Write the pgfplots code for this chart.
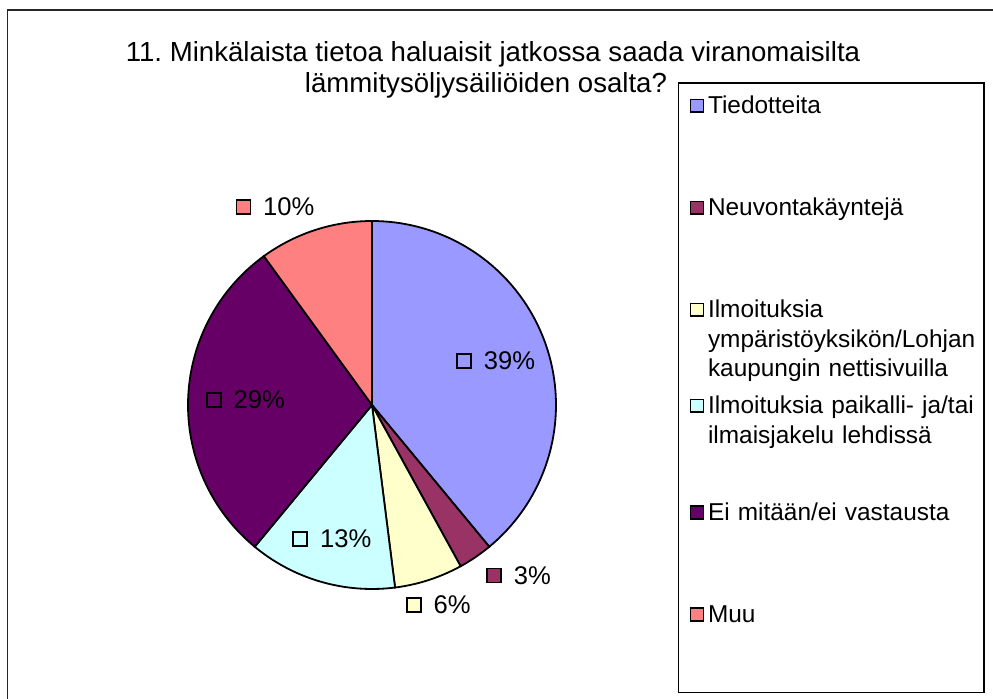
\documentclass[border=0pt]{standalone}
\usepackage{pgfplots}
\pgfplotsset{compat=1.18}
\usepackage{fontspec}
\setmainfont{Liberation Sans}
\frenchspacing
\definecolor{cA}{HTML}{9999FF}
\definecolor{cB}{HTML}{993366}
\definecolor{cC}{HTML}{FFFFCC}
\definecolor{cD}{HTML}{CCFFFF}
\definecolor{cE}{HTML}{660066}
\definecolor{cF}{HTML}{FF8080}
% shares (percent)
\def\vA{39}\def\vB{3}\def\vC{6}\def\vD{13}\def\vE{29}\def\vF{10}
\pgfmathsetmacro\aZ{90}
\pgfmathsetmacro\aA{\aZ-3.6*\vA}
\pgfmathsetmacro\aB{\aA-3.6*\vB}
\pgfmathsetmacro\aC{\aB-3.6*\vC}
\pgfmathsetmacro\aD{\aC-3.6*\vD}
\pgfmathsetmacro\aE{\aD-3.6*\vE}
\pgfmathsetmacro\aF{\aE-3.6*\vF}
\newcommand\lfont{\fontsize{12.2bp}{14.8bp}\selectfont}
\newcommand\pfont{\fontsize{12.8bp}{15bp}\selectfont}
\begin{document}
\lfont
\begin{tikzpicture}
\useasboundingbox (0,0) rectangle (496.5bp,349.5bp);
\draw[line width=0.8bp, black!85] (3.75bp,-2bp) -- (3.75bp,344.5bp) -- (498bp,344.5bp);
\node[anchor=base, inner sep=0pt, font=\fontsize{13.8bp}{15bp}\selectfont] at (246.5bp,318.6bp) {11.\ Minkälaista tietoa haluaisit jatkossa saada viranomaisilta};
\node[anchor=base, inner sep=0pt, font=\fontsize{13.8bp}{15bp}\selectfont] at (243bp,303bp) {lämmitysöljysäiliöiden osalta?};
\begin{axis}[at={(186bp,147bp)}, anchor=center, scale only axis,
  width=184bp, height=184bp, xmin=-1, xmax=1, ymin=-1, ymax=1,
  hide axis, clip=false,
  legend image code/.code={\draw[#1, line width=0.75bp] (-0.2bp,0.8bp) rectangle (6.2bp,7.2bp);},
  legend cell align=left,
  legend style={at={(1.3315,1.3777)}, anchor=north west, draw=black, line width=0.75bp,
    fill=white, inner xsep=5.5bp, inner ysep=3.1bp, row sep=0pt, font=\lfont,
    cells={anchor=base west, inner sep=0pt},
    /tikz/every even column/.append style={column sep=3.5bp}},
  nodes near coords style={anchor=west, xshift=9.5bp, inner sep=0pt, font=\pfont, text=black},
]
\addplot[fill=cA, draw=black, line width=0.9bp, domain=\aA:\aZ, samples=80, variable=\t] ({cos(\t)},{sin(\t)}) -- (axis cs:0,0) -- cycle;
\addlegendentry[text width=130.5bp, align=left, text height=10.4bp, text depth=36.6bp]{Tiedotteita}
\addplot[fill=cB, draw=black, line width=0.9bp, domain=\aB:\aA, samples=10, variable=\t] ({cos(\t)},{sin(\t)}) -- (axis cs:0,0) -- cycle;
\addlegendentry[text width=130.5bp, align=left, text height=10.4bp, text depth=36.6bp]{Neuvontakäyntejä}
\addplot[fill=cC, draw=black, line width=0.9bp, domain=\aC:\aB, samples=15, variable=\t] ({cos(\t)},{sin(\t)}) -- (axis cs:0,0) -- cycle;
\addlegendentry[text width=130.5bp, align=left, text height=10.4bp, text depth=33.6bp]{Ilmoituksia\\\mbox{ympäristöyksikön/Lohjan}\\kaupungin nettisivuilla}
\addplot[fill=cD, draw=black, line width=0.9bp, domain=\aD:\aC, samples=30, variable=\t] ({cos(\t)},{sin(\t)}) -- (axis cs:0,0) -- cycle;
\addlegendentry[text width=130.5bp, align=left, text height=10.4bp, text depth=39.1bp]{\mbox{Ilmoituksia paikalli- ja/tai}\\ilmaisjakelu lehdissä}
\addplot[fill=cE, draw=black, line width=0.9bp, domain=\aE:\aD, samples=60, variable=\t] ({cos(\t)},{sin(\t)}) -- (axis cs:0,0) -- cycle;
\addlegendentry[text width=130.5bp, align=left, text height=10.4bp, text depth=36.6bp]{Ei mitään/ei vastausta}
\addplot[fill=cF, draw=black, line width=0.9bp, domain=\aF:\aE, samples=25, variable=\t] ({cos(\t)},{sin(\t)}) -- (axis cs:0,0) -- cycle;
\addlegendentry[text width=130.5bp, align=left, text height=10.4bp, text depth=29.9bp]{Muu}
% data labels
\addplot[forget plot, only marks, mark=square*, mark size=3.5bp, mark options={fill=cA, draw=black, line width=0.8bp}, nodes near coords, point meta=explicit symbolic] coordinates {(0.500,0.239) [39\%]};
\addplot[forget plot, only marks, mark=square*, mark size=3.5bp, mark options={fill=cB, draw=black, line width=0.8bp}, nodes near coords, point meta=explicit symbolic] coordinates {(0.664,-0.927) [3\%]};
\addplot[forget plot, only marks, mark=square*, mark size=3.5bp, mark options={fill=cC, draw=black, line width=0.8bp}, nodes near coords, point meta=explicit symbolic] coordinates {(0.227,-1.086) [6\%]};
\addplot[forget plot, only marks, mark=square*, mark size=3.5bp, mark options={fill=cD, draw=black, line width=0.8bp}, nodes near coords, point meta=explicit symbolic] coordinates {(-0.390,-0.727) [13\%]};
\addplot[forget plot, only marks, mark=square*, mark size=3.5bp, mark options={fill=cE, draw=black, line width=0.8bp}, nodes near coords, point meta=explicit symbolic] coordinates {(-0.860,0.027) [29\%]};
\addplot[forget plot, only marks, mark=square*, mark size=3.5bp, mark options={fill=cF, draw=black, line width=0.8bp}, nodes near coords, point meta=explicit symbolic] coordinates {(-0.699,1.076) [10\%]};
\end{axis}
\end{tikzpicture}
\end{document}
